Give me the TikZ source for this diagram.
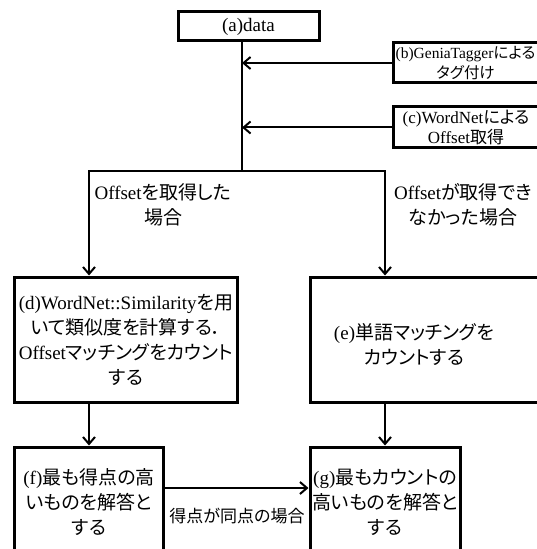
\documentclass[tikz,border=0pt]{standalone}
\usepackage{fontspec}
\setmainfont{Liberation Serif}
\newfontfamily\cjk[RawFeature=+palt]{Noto Sans CJK JP}
\newcommand\ja[1]{{\cjk #1}}
\usetikzlibrary{arrows.meta}
\begin{document}
\begin{tikzpicture}[x=1bp,y=-1bp,
  box/.style={draw, line width=3bp, inner sep=0pt, align=center},
  conn/.style={line width=2bp},
  arr/.style={conn, -{Straight Barb[length=7bp,width=12bp,line width=2bp]}},
  main/.style={font=\fontsize{19bp}{25bp}\selectfont},
  small/.style={font=\fontsize{17bp}{20bp}\selectfont},
  tiny/.style={font=\fontsize{15.5bp}{20bp}\selectfont}]
\useasboundingbox (0,0) rectangle (537,549);
\clip (0,0) rectangle (537,549);
% boxes
\node[box, minimum width=146bp, minimum height=40bp] (b) at (466,63) {};
\node[tiny, align=center, inner sep=0pt] (btext) at (465.5,63) {(b)GeniaTagger\ja{による}\\\ja{タグ付け}};
\node[box, main, minimum width=141bp, minimum height=29bp] (a) at (248.5,26.5) {(a)data};
\node[box, small, minimum width=146bp, minimum height=41bp] (c) at (466,127.5) {(c)WordNet\ja{による}\\Offset\ja{取得}};
\node[box, main, minimum width=222bp, minimum height=125bp] (d) at (126,339.5) {(d)WordNet::Similarity\ja{を用}\\\ja{いて類似度を計算する．}\\Offset\ja{マッチングをカウント}\\\ja{する}};
\node[box, minimum width=250bp, minimum height=125bp] (e) at (435,339.5) {};
\node[main, align=center, inner sep=0pt] (etext) at (414,344.5) {(e)\ja{単語マッチングを}\\\ja{カウントする}};
\node[box, main, minimum width=148bp, minimum height=110bp] (f) at (89,502) {(f)\ja{最も得点の高}\\\ja{いものを解答と}\\\ja{する}};
\node[box, main, minimum width=150bp, minimum height=110bp] (g) at (385,502) {(g)\ja{最もカウントの}\\\ja{高いものを解答と}\\\ja{する}};
% labels
\node[main, align=center, inner sep=0pt] (lblL) at (163,204.5) {Offset\ja{を取得した}\\\ja{場合}};
\node[main, align=center, inner sep=0pt] (lblR) at (463,204.5) {Offset\ja{が取得でき}\\\ja{なかった場合}};
\node[small, inner sep=0pt] (tie) at (237,516) {\ja{得点が同点の場合}};
% connectors
\coordinate (split) at (242,171);
\coordinate (hy) at (0,488);
\draw[conn] (a.south -| split) -- (split);
\draw[arr] (b.west) -- (b.west -| split);
\draw[arr] (c.west) -- (c.west -| split);
\draw[arr] (split) -| (f.north |- d.north);
\draw[arr] (split) -| (g.north |- e.north);
\draw[arr] (f.north |- d.south) -- (f.north);
\draw[arr] (g.north |- e.south) -- (g.north);
\draw[arr] (f.east |- hy) -- (g.west |- hy);
\end{tikzpicture}
\end{document}
